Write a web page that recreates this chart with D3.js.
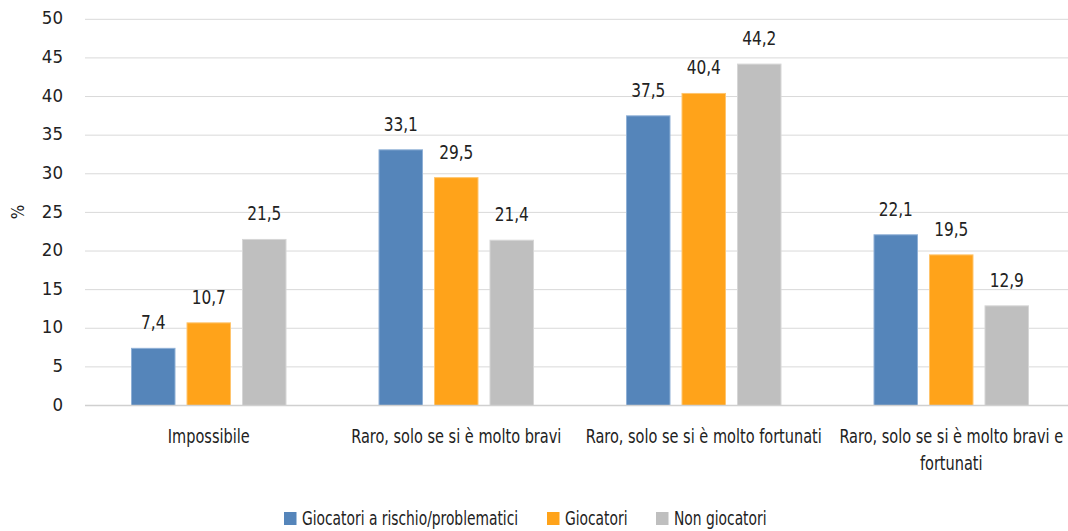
<!DOCTYPE html>
<html><head><meta charset="utf-8">
<script src="https://cdn.jsdelivr.net/npm/d3@7"></script>
<style>
body{margin:0;background:#fff;}
svg text{font-family:"DejaVu Sans Condensed","Liberation Sans Narrow",sans-serif;fill:#222;}
</style></head>
<body><svg id="c" width="1068" height="531"></svg>
<script>
const categories = ["Impossibile","Raro, solo se si è molto bravi","Raro, solo se si è molto fortunati","Raro, solo se si è molto bravi e fortunati"];
const seriesNames = ["Giocatori a rischio/problematici","Giocatori","Non giocatori"];
const rischio = [7.4, 33.1, 37.5, 22.1];
const giocatori = [10.7, 29.5, 40.4, 19.5];
const nonGiocatori = [21.5, 21.4, 44.2, 12.9];
const yTicks = [0,5,10,15,20,25,30,35,40,45,50];
const colors = ["#5585BA","#FFA31A","#BFBFBF"];
const strokes = ["#8FB0D6","#FFC56E","#D6D6D6"];

const series = [rischio, giocatori, nonGiocatori];
const svg = d3.select("#c");
const m = {l:85, r:1075, t:19.3, b:405.5};
const x = d3.scaleBand().domain(categories).range([m.l, m.r]);
const y = d3.scaleLinear().domain([0,50]).range([m.b, m.t]);
const barW = 43.5, step = 55.5;
const xs = d3.scaleBand().domain(seriesNames).range([-step*1.5, step*1.5]);

function txt(g, px, py, s, size, sx, anchor){
  return g.append("text").attr("transform", `translate(${px},${py}) scale(${sx},1)`)
    .attr("text-anchor", anchor).attr("font-size", size).text(s);
}

// gridlines
svg.append("g").selectAll("line").data(yTicks.filter(d=>d>0)).join("line")
  .attr("x1", m.l).attr("x2", m.r).attr("y1", d=>y(d)).attr("y2", d=>y(d))
  .attr("stroke", "#D9D9D9").attr("stroke-width", 1);

// y axis labels (positions via axis scale)
const yAxis = d3.axisLeft(y).tickValues(yTicks).tickSize(0).tickPadding(0);
const ya = svg.append("g").attr("transform", `translate(${m.l-22},0)`).call(yAxis);
ya.select(".domain").remove();
ya.selectAll("text").attr("font-size", 18.5).style("font-family", null).attr("fill","#222")
  .attr("dy", "0.25em");

// y title
svg.append("text").attr("transform", "translate(24,212) rotate(-90)").attr("text-anchor","middle")
  .attr("font-size", 17).text("%");

// bars
seriesNames.forEach((s, si) => {
  const g = svg.append("g");
  g.selectAll("rect").data(categories).join("rect")
    .attr("x", c => x(c) + x.bandwidth()/2 + xs(s) + (step-barW)/2)
    .attr("width", barW)
    .attr("y", (c,i) => y(series[si][i]))
    .attr("height", (c,i) => y(0) - y(series[si][i]))
    .attr("fill", colors[si]).attr("stroke", strokes[si]).attr("stroke-width", 1);
  categories.forEach((c,i) => {
    txt(g, x(c) + x.bandwidth()/2 + xs(s) + step/2, y(series[si][i]) - 19,
      d3.format(".1f")(series[si][i]).replace(".", ","), 19, 0.9, "middle");
  });
});

// x axis line
svg.append("line").attr("x1", m.l).attr("x2", m.r).attr("y1", y(0)).attr("y2", y(0))
  .attr("stroke", "#D0D0D0").attr("stroke-width", 1.5);

// category labels with wrapping
const catSize = 19, catScale = 0.85, maxW = 250;
const meas = svg.append("text").attr("font-size", catSize).attr("visibility","hidden");
categories.forEach(c => {
  const cx = x(c) + x.bandwidth()/2;
  const words = c.split(" ");
  const lines = [];
  let line = [];
  words.forEach(w => {
    line.push(w);
    meas.text(line.join(" "));
    if (meas.node().getComputedTextLength()*catScale > maxW && line.length > 1) {
      line.pop(); lines.push(line.join(" ")); line = [w];
    }
  });
  lines.push(line.join(" "));
  lines.forEach((l, li) => txt(svg, cx, 443 + li*27, l, catSize, catScale, "middle"));
});
meas.remove();

// legend
const legX = [284, 547, 656];
const lg = svg.append("g");
seriesNames.forEach((s, i) => {
  lg.append("rect").attr("x", legX[i]).attr("y", 512).attr("width", 12.5).attr("height", 13).attr("fill", colors[i]);
  txt(lg, legX[i] + 18, 525, s, 19, 0.81, "start");
});
</script></body></html>
